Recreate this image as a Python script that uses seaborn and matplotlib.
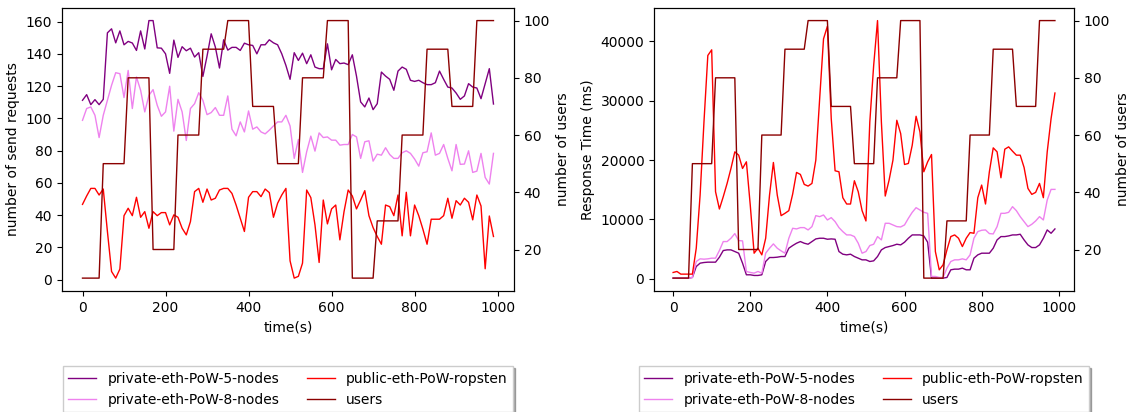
import numpy as np
import pandas as pd
import matplotlib
matplotlib.use("Agg")
import matplotlib.pyplot as plt
import seaborn as sns

# ---------------- data ----------------
time_s = list(range(0, 1000, 10))

users = ([10] * 5 + [50] * 6 + [80] * 6 + [20] * 6 + [60] * 6 + [90] * 6 + [100] * 6 +
         [70] * 6 + [50] * 6 + [80] * 6 + [100] * 6 + [10] * 6 + [30] * 6 + [60] * 6 +
         [90] * 6 + [70] * 6 + [100] * 5)

# left chart: number of send requests
req_priv5 = [111.2, 114.7, 108.5, 111.6, 108.5, 111.8, 153.0, 155.5, 146.8, 154.2,
             145.6, 147.7, 146.7, 142.1, 154.2, 143.0, 160.6, 160.6, 143.7, 143.5,
             140.0, 127.9, 148.5, 137.8, 144.4, 141.9, 143.5, 138.0, 140.7, 126.0,
             138.6, 152.4, 144.2, 131.2, 148.7, 142.3, 144.0, 144.0, 142.1, 146.6,
             145.6, 145.2, 140.0, 145.6, 145.6, 148.7, 146.8, 145.6, 140.0, 132.8,
             124.2, 140.7, 135.9, 140.4, 133.9, 139.4, 131.8, 130.8, 130.8, 146.2,
             130.1, 136.5, 133.9, 134.3, 133.3, 139.4, 126.2, 110.2, 107.1, 112.6,
             105.4, 109.1, 128.7, 126.2, 124.2, 117.4, 129.3, 131.8, 130.4, 123.6,
             122.9, 123.6, 122.1, 120.9, 120.9, 122.1, 129.3, 124.2, 119.4, 118.8,
             115.7, 111.8, 113.9, 121.5, 119.4, 118.8, 112.2, 121.5, 130.8, 108.9]

req_priv8 = [98.8, 106.1, 107.1, 101.9, 88.1, 101.9, 111.2, 120.5, 128.3, 127.7,
             112.9, 129.7, 106.1, 125.6, 117.4, 104.0, 114.3, 117.8, 108.1, 101.3,
             104.0, 119.9, 92.1, 111.8, 104.0, 86.3, 106.1, 109.1, 115.9, 111.2,
             102.3, 103.6, 106.7, 101.9, 101.9, 113.9, 93.3, 89.2, 97.8, 91.6,
             104.6, 93.3, 94.7, 91.6, 90.4, 92.7, 95.3, 97.8, 97.8, 101.9,
             95.3, 75.2, 86.9, 66.5, 79.3, 89.0, 79.7, 91.0, 88.1, 88.5,
             86.5, 86.5, 83.4, 83.8, 83.8, 90.0, 88.5, 75.2, 85.5, 86.1,
             73.5, 77.8, 77.2, 81.8, 77.6, 75.2, 75.2, 78.7, 79.9, 78.3,
             74.8, 70.4, 78.7, 79.3, 91.0, 77.2, 78.3, 83.8, 75.2, 67.5,
             83.8, 71.5, 71.7, 79.9, 66.5, 67.3, 78.3, 63.4, 59.3, 78.3]

req_public = [46.7, 51.9, 56.6, 56.6, 52.5, 56.2, 29.9, 5.1, 1.0, 6.6,
              39.7, 44.3, 39.7, 51.1, 38.7, 42.2, 31.9, 42.2, 39.7, 41.6,
              41.6, 34.0, 40.2, 38.7, 31.9, 27.8, 36.0, 54.6, 56.6, 48.0,
              56.2, 49.4, 50.5, 55.6, 56.6, 56.6, 53.5, 46.3, 38.1, 29.9,
              51.1, 54.6, 54.6, 51.5, 56.2, 54.0, 38.7, 47.4, 52.5, 56.6,
              11.7, 1.0, 2.1, 10.3, 55.6, 50.9, 34.0, 10.7, 49.4, 34.6,
              43.9, 46.3, 24.7, 42.2, 55.6, 51.9, 43.9, 49.4, 55.2, 39.7,
              32.3, 26.8, 22.0, 46.3, 45.3, 39.7, 52.5, 27.2, 54.2, 27.2,
              46.3, 39.7, 31.3, 22.0, 37.5, 37.5, 37.5, 39.7, 50.5, 38.1,
              49.0, 46.3, 50.5, 48.0, 37.1, 52.5, 45.7, 6.8, 39.5, 26.8]

# right chart: response time (ms)
rt_priv5 = [112, 112, 112, 112, 112, 224, 2072, 2632, 2744, 2800,
            2800, 2800, 3640, 4760, 4872, 4872, 4592, 4312, 2632, 672,
            672, 560, 560, 672, 2912, 3584, 3584, 3640, 3752, 3752,
            5152, 5600, 5992, 6272, 5992, 5824, 6272, 6720, 6832, 6832,
            6664, 6720, 6664, 4592, 4144, 4032, 4144, 3752, 3472, 3192,
            3192, 2912, 3024, 3752, 4872, 5264, 5432, 5600, 5824, 5712,
            6160, 6832, 7392, 7392, 7392, 7224, 6160, 112, 112, 112,
            112, 224, 1512, 1624, 1624, 1792, 1512, 1512, 3472, 4032,
            4312, 4312, 4312, 5152, 6552, 7112, 7112, 7224, 7392, 7392,
            7504, 6552, 5712, 5264, 5264, 5712, 6832, 8232, 7672, 8400]

rt_priv8 = [112, 112, 112, 112, 112, 224, 2912, 3360, 3304, 3360,
            3472, 3472, 4760, 6272, 6272, 6832, 7616, 6440, 6384, 1232,
            1064, 952, 1232, 952, 4312, 5152, 5880, 5152, 4704, 4312,
            6832, 8512, 8400, 8624, 8624, 8232, 8792, 10640, 10472, 10752,
            9912, 10304, 9632, 8624, 7952, 7392, 7392, 7112, 5992, 4312,
            4592, 5600, 5824, 7112, 6552, 9352, 9352, 9072, 8792, 8736,
            9072, 10192, 11200, 11984, 11592, 11200, 11032, 392, 392, 224,
            224, 1792, 2912, 3192, 3192, 3360, 3192, 4032, 6832, 7952,
            8176, 8232, 7616, 7560, 8792, 11032, 11032, 11200, 12152, 11480,
            10472, 9632, 8792, 9184, 9744, 10472, 9912, 13272, 15064, 15064]

rt_public = [1064, 1232, 784, 784, 784, 784, 5152, 14112, 26432, 37632,
             38584, 14672, 11760, 13832, 16072, 18592, 21392, 20832, 18592, 19712,
             12432, 4312, 5152, 4032, 6832, 14112, 19600, 14112, 10640, 11032,
             11480, 14280, 17920, 17584, 15904, 15624, 16072, 19992, 30352, 40432,
             42560, 26992, 18200, 18032, 13664, 12600, 12600, 16520, 14672, 11480,
             9744, 26432, 35952, 43512, 26432, 13944, 16632, 19992, 26712, 24472,
             19264, 19432, 22512, 27384, 24752, 18032, 19712, 20944, 4592, 1512,
             2352, 4872, 7112, 7392, 6832, 5432, 6832, 7784, 7672, 13664,
             15792, 12600, 18032, 22064, 21392, 17024, 21840, 22232, 21504, 20832,
             20832, 18760, 15232, 14224, 14560, 16072, 13664, 21392, 26992, 31304]

series_names = ["private-eth-PoW-5-nodes", "private-eth-PoW-8-nodes",
                "public-eth-PoW-ropsten", "users"]
series_colors = ["purple", "violet", "red", "darkred"]

# ---------------- figure ----------------
plt.rcParams["font.family"] = ["DejaVu Sans"]
plt.rcParams["font.size"] = 10

fig = plt.figure(figsize=(11.41, 4.12), dpi=100)
ax_l = fig.add_axes([0.0543, 0.2937, 0.3962, 0.6876])
ax_r = fig.add_axes([0.5732, 0.2937, 0.3681, 0.6876])

panels = [
    (ax_l, [req_priv5, req_priv8, req_public], "number of send requests"),
    (ax_r, [rt_priv5, rt_priv8, rt_public], "Response Time (ms)"),
]

for ax, vals, ylab in panels:
    for v, name, col in zip(vals, series_names[:3], series_colors[:3]):
        df = pd.DataFrame({"time": time_s, "value": v})
        sns.lineplot(data=df, x="time", y="value", ax=ax, color=col, lw=1.0,
                     label=name, legend=False, errorbar=None)
    ax.set_xlabel("time(s)")
    ax.set_ylabel(ylab)
    ax2 = ax.twinx()
    dfu = pd.DataFrame({"time": time_s, "users": users})
    sns.lineplot(data=dfu, x="time", y="users", ax=ax2, color=series_colors[3],
                 lw=1.0, label=series_names[3], legend=False, errorbar=None)
    ax2.set_ylabel("number of users")
    h1, l1 = ax.get_legend_handles_labels()
    h2, l2 = ax2.get_legend_handles_labels()
    ax.legend(h1 + h2, l1 + l2, ncol=2, loc="upper center",
              bbox_to_anchor=(0.5, -0.266), borderaxespad=0,
              fancybox=False, shadow={"ox": 1.5, "oy": -1.5, "alpha": 0.45},
              fontsize=10)

fig.savefig("out.png", dpi=100)
